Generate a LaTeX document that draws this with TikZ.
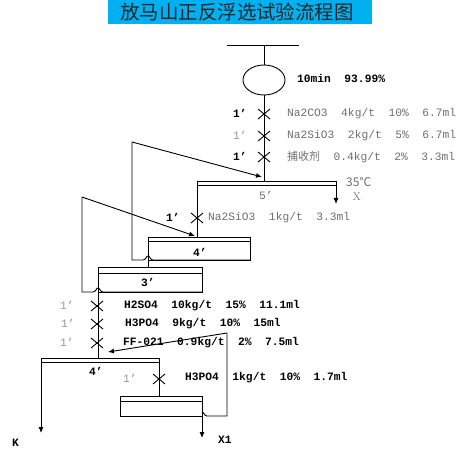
\documentclass[tikz,border=0pt]{standalone}
\usepackage{fontspec}
\usetikzlibrary{arrows.meta,shapes.geometric,calc}
\newfontfamily\monof{Liberation Mono}
\newfontfamily\cjkf{Noto Sans CJK SC}
\definecolor{titleblue}{RGB}{0,176,240}
\definecolor{txtgray}{RGB}{110,110,110}
\definecolor{lightgray1}{RGB}{150,150,150}
\tikzset{
  ln/.style={line width=0.9bp, black},
  arr/.style={ln, -{Latex[length=6bp,width=5bp]}},
  blk/.style={font=\monof\bfseries\fontsize{11.3}{12}\selectfont, text=black, inner sep=0pt, anchor=west},
  gry/.style={font=\monof\fontsize{11.3}{12}\selectfont, text=txtgray, inner sep=0pt, anchor=west},
  onegray/.style={font=\monof\fontsize{11.3}{12}\selectfont, text=lightgray1, inner sep=0pt, anchor=west},
  oneblk/.style={font=\monof\bfseries\fontsize{11.3}{12}\selectfont, text=black, inner sep=0pt, anchor=west},
}
\newcommand{\xmark}[1]{\draw[ln] ($(#1)+(-6,-5)$) -- ($(#1)+(6,5)$) ($(#1)+(-6,5)$) -- ($(#1)+(6,-5)$);}
\begin{document}
\begin{tikzpicture}[x=1bp,y=-1bp]
\useasboundingbox (0,0) rectangle (468,461);
% title
\fill[titleblue] (108,0) rectangle (372,24);
\node[font=\cjkf\fontsize{19.5}{20}\selectfont, text=black!85, inner sep=0pt] (title) at (237,12) {放马山正反浮选试验流程图};

% feed and conditioning
\coordinate (fl) at (227,45); \coordinate (fr) at (299,45); \coordinate (ft) at (264,45);
\draw[ln] (fl) -- (fr);
\node[ellipse, draw, line width=0.9bp, minimum width=42bp, minimum height=30bp, inner sep=0pt] (cond) at (264,80) {};
\draw[ln] (ft) -- (cond.north);
\node[blk] (condtxt) at (297,78) {10min\ \ 93.99\%};

% reagent line to cell 5
\coordinate (c5feed) at (264,181);
\draw[ln] (cond.south) -- (c5feed);
\coordinate (x1) at (264,114); \coordinate (x2) at (264,136); \coordinate (x3) at (264,157);
\xmark{x1} \xmark{x2} \xmark{x3}
\node[oneblk] (o1) at (233,113) {1’};
\node[onegray] (o2) at (233,135) {1’};
\node[oneblk] (o3) at (233,156) {1’};
\node[gry] (r1) at (287,114) {Na2CO3\ \ 4kg/t\ \ 10\%\ \ 6.7ml};
\node[gry] (r2) at (287,136) {Na2SiO3\ \ 2kg/t\ \ 5\%\ \ 6.7ml};
\node[gry] (r3) at (287,157) {{\cjkf\fontsize{11}{12}\selectfont 捕收剂}\ \ 0.4kg/t\ \ 2\%\ \ 3.3ml};

% cell 5
\coordinate (c5l) at (197,181); \coordinate (c5r) at (336,181);
\draw[ln] (c5l) -- (c5r);
\draw[line width=0.6bp] (197,185) -- (336,185);
\coordinate (c5out) at (336,204);
\draw[arr] (c5r) -- (c5out);
\node[gry] (c5lab) at (259,195) {5’};
\node[font=\cjkf\fontsize{12}{12}\selectfont, text=txtgray, inner sep=0pt, anchor=west] (temp) at (346,182) {35℃};
\node[font=\fontsize{11}{11}\selectfont, text=txtgray, inner sep=0pt] (xout) at (357,197) {X};

% cell 5 tail to cell 4 (upper)
\coordinate (c4feed) at (197,237);
\draw[ln] (c5l) -- (c4feed);
\coordinate (x4) at (197,218);
\xmark{x4}
\node[oneblk] (o4) at (166,217) {1’};
\node[gry] (r4) at (208,218) {Na2SiO3\ \ 1kg/t\ \ 3.3ml};

% cell 4 upper
\draw[ln] (148,237) rectangle (250,260);
\draw[line width=0.6bp] (148,241) -- (250,241);
\node[blk] (c4lab) at (193,252) {4’};
\coordinate (c4a) at (132,260); \coordinate (c4b) at (132,142); \coordinate (c5in) at (262,177);
\draw[ln] (250,260) -- (153,260) .. controls (150,260) and (150,256) .. (148,256) .. controls (146,256) and (146,260) .. (143,260) -- (c4a) -- (c4b);
\draw[arr] (c4b) -- (c5in);

% cell 3
\coordinate (c3feed) at (148,267);
\draw[ln] (148,256) -- (c3feed);
\draw[ln] (98,267) rectangle (202,292);
\draw[line width=0.6bp] (98,273) -- (202,273);
\node[blk] (c3lab) at (141,282) {3’};
\coordinate (c3a) at (82,292); \coordinate (c3b) at (82,197); \coordinate (c4in) at (195,236);
\draw[ln] (202,292) -- (103,292) .. controls (100,292) and (100,288) .. (98,288) .. controls (96,288) and (96,292) .. (93,292) -- (c3a) -- (c3b);
\draw[arr] (c3b) -- (c4in);

% reverse flotation feed
\coordinate (c6feed) at (98,358);
\draw[ln] (98,288) -- (c6feed);
\coordinate (x5) at (97,306); \coordinate (x6) at (97,324); \coordinate (x7) at (97,343);
\xmark{x5} \xmark{x6} \xmark{x7}
\node[onegray] (o5) at (60,305) {1’};
\node[onegray] (o6) at (61,323) {1’};
\node[onegray] (o7) at (60,342) {1’};
\node[blk] (r5) at (124,306) {H2SO4\ \ 10kg/t\ \ 15\%\ \ 11.1ml};
\node[blk] (r6) at (125,324) {H3PO4\ \ 9kg/t\ \ 10\%\ \ 15ml};
\node[blk] (r7) at (123,343) {FF-021\ \ 0.9kg/t\ \ 2\%\ \ 7.5ml};

% cell 4 lower
\coordinate (c6l) at (41,358); \coordinate (c6r) at (159,358);
\draw[ln] (c6l) -- (c6r);
\draw[line width=0.6bp] (41,362) -- (159,362);
\coordinate (kout) at (41,433);
\draw[arr] (c6l) -- (kout);
\node[blk] (c6lab) at (89,371) {4’};
\coordinate (c7feed) at (159,396);
\draw[ln] (c6r) -- (c7feed);
\coordinate (x8) at (159,379);
\xmark{x8}
\node[onegray] (o8) at (123,378) {1’};
\node[blk] (r8) at (185,378) {H3PO4\ \ 1kg/t\ \ 10\%\ \ 1.7ml};

% bottom cell
\draw[ln] (120,396) rectangle (202,416);
\draw[line width=0.6bp] (120,401) -- (202,401);
\coordinate (c7a) at (227,416); \coordinate (c7b) at (227,333); \coordinate (c6in) at (108,352);
\draw[ln] (202,412) .. controls (204,412) and (204,416) .. (207,416) -- (c7a) -- (c7b);
\draw[arr] (c7b) -- (c6in);
\coordinate (x1out) at (202,438);
\draw[arr] (202,412) -- (x1out);
\node[blk] (x1lab) at (218,440) {X1};
\node[blk] (klab) at (12,443) {K};
\end{tikzpicture}
\end{document}
